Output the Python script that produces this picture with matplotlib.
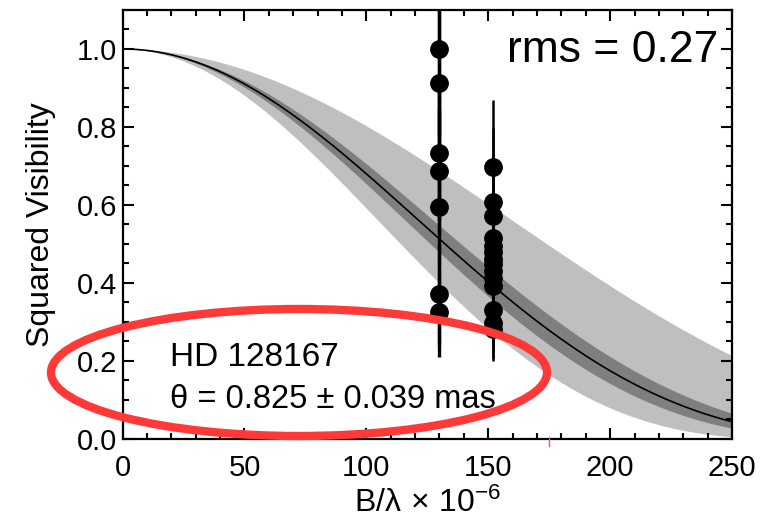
import numpy as np
import matplotlib
matplotlib.use("Agg")
import matplotlib.pyplot as plt
from matplotlib.patches import Ellipse
from matplotlib.lines import Line2D
from matplotlib.ticker import MultipleLocator

plt.rcParams['font.family'] = ['Liberation Sans', 'DejaVu Sans']
plt.rcParams['mathtext.fontset'] = 'custom'
plt.rcParams['mathtext.rm'] = 'Liberation Sans'
plt.rcParams['mathtext.it'] = 'Liberation Sans:italic'

# measured squared visibilities, two baselines (B/lambda in units of 1e6)
base1 = 129.6
vis1 = [1.0, 0.913, 0.732, 0.686, 0.594, 0.370, 0.324]
err1 = [0.22, 0.20, 0.17, 0.16, 0.15, 0.13, 0.114]

base2 = 151.8
vis2 = [0.697, 0.607, 0.570, 0.516, 0.495, 0.479, 0.462, 0.448, 0.430, 0.413, 0.391, 0.331, 0.297, 0.280]
err2 = [0.173, 0.19, 0.16, 0.15, 0.14, 0.13, 0.13, 0.12, 0.12, 0.11, 0.11, 0.10, 0.09, 0.082]

star = "HD 128167"
theta = 0.825
theta_err = 0.039
rms = 0.27

# uniform-disk diameters (mas) for the model curve and the two bands
theta_fit = 0.803
theta_dark = (0.765, 0.841)
theta_light = (0.610, 0.931)

MAS = np.pi / 180 / 3600 / 1000


def bessel_j1(x):
    tau = np.linspace(0, np.pi, 801)
    vals = np.cos(tau[None, :] - np.asarray(x)[:, None] * np.sin(tau[None, :]))
    return np.trapezoid(vals, tau, axis=1) / np.pi


def ud_v2(b, th):
    x = np.pi * th * MAS * b * 1e6
    x = np.where(x == 0, 1e-9, x)
    return (2 * bessel_j1(x) / x) ** 2


b = np.linspace(0, 250, 600)
v_fit = ud_v2(b, theta_fit)
d1, d2 = ud_v2(b, theta_dark[0]), ud_v2(b, theta_dark[1])
l1, l2 = ud_v2(b, theta_light[0]), ud_v2(b, theta_light[1])

fig = plt.figure(figsize=(7.61, 5.19), dpi=100)
ax = fig.add_axes([0.1611, 0.1551, 0.8008, 0.8256])

ax.fill_between(b, np.minimum(l1, l2), np.maximum(l1, l2), color='#bfbfbf', lw=0)
ax.fill_between(b, np.minimum(d1, d2), np.maximum(d1, d2), color='#7f7f7f', lw=0)
ax.plot(b, v_fit, color='black', lw=1.2)

ax.errorbar([base1] * len(vis1), vis1, yerr=err1, fmt='o', color='black',
            ms=12.5, elinewidth=2.4, capsize=0)
ax.errorbar([base2] * len(vis2), vis2, yerr=err2, fmt='o', color='black',
            ms=12.5, elinewidth=1.8, capsize=0)

ax.set_xlim(0, 250)
ax.set_ylim(0, 1.1)
ax.xaxis.set_major_locator(MultipleLocator(50))
ax.xaxis.set_minor_locator(MultipleLocator(10))
ax.yaxis.set_major_locator(MultipleLocator(0.2))
ax.yaxis.set_minor_locator(MultipleLocator(0.05))
ax.yaxis.set_major_formatter(matplotlib.ticker.FormatStrFormatter('%.1f'))
ax.tick_params(which='both', direction='in', top=True, right=True, width=1.5)
ax.tick_params(which='major', length=8, labelsize=21)
ax.tick_params(which='minor', length=4.5)
ax.tick_params(axis='x', pad=11)
ax.tick_params(axis='y', pad=4)
for s in ax.spines.values():
    s.set_linewidth(1.6)

ax.set_xlabel(r'B/λ$\,\times\,$10$^{-6}$', fontsize=23, labelpad=4)
ax.set_ylabel('Squared Visibility', fontsize=23, labelpad=15)

ax.text(0.977, 0.879, f'rms = {rms:.2f}', transform=ax.transAxes,
        ha='right', va='baseline', fontsize=32)
ax.text(0.078, 0.169, star, transform=ax.transAxes, ha='left', va='baseline', fontsize=24)
ax.text(0.078, 0.071, f'θ = {theta:.3f} ± {theta_err:.3f} mas', transform=ax.transAxes,
        ha='left', va='baseline', fontsize=23.5)

# red hand-drawn highlight
fig.patches.append(Ellipse((299 / 761, 1 - 372.5 / 519), 496 / 761, 127 / 519,
                           transform=fig.transFigure, fill=False,
                           edgecolor='#ff3838', lw=6, zorder=10))
fig.lines.append(Line2D([549 / 761, 549 / 761], [1 - 437 / 519, 1 - 446 / 519],
                        transform=fig.transFigure, color='#ff5050', lw=1))

fig.savefig('out.png', dpi=100)
